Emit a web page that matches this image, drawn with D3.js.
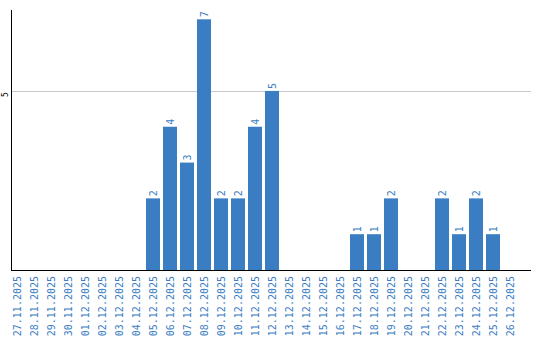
<!DOCTYPE html>
<html>
  <head>
    <meta charset="utf-8">
    <script src="https://d3js.org/d3.v7.min.js"></script>
    <style>
      body { margin: 0; background: #fff; }
      svg text { font-family: "DejaVu Sans Mono", monospace; }
    </style>
  </head>
<body>
  <script type="text/javascript">
    // dates on the x axis and the count for each day
    var days = ["27.11.2025", "28.11.2025", "29.11.2025", "30.11.2025",
                "01.12.2025", "02.12.2025", "03.12.2025", "04.12.2025",
                "05.12.2025", "06.12.2025", "07.12.2025", "08.12.2025",
                "09.12.2025", "10.12.2025", "11.12.2025", "12.12.2025",
                "13.12.2025", "14.12.2025", "15.12.2025", "16.12.2025",
                "17.12.2025", "18.12.2025", "19.12.2025", "20.12.2025",
                "21.12.2025", "22.12.2025", "23.12.2025", "24.12.2025",
                "25.12.2025", "26.12.2025"];
    var counts = [0, 0, 0, 0, 0, 0, 0, 0, 2, 4, 3, 7, 2, 2, 4, 5,
                  0, 0, 0, 0, 1, 1, 2, 0, 0, 2, 1, 2, 1, 0];
    var yTicks = [5];
    var yMax = 7.26;

    var width = 540, height = 340;
    var blue = "#3b7dc2";

    var svg = d3.select("body").append("svg")
        .attr("width", width)
        .attr("height", height);

    var x = d3.scaleBand()
        .domain(days)
        .range([8.5, 518.5])
        .paddingInner(3 / 17)
        .paddingOuter(1.5 / 17);

    var y = d3.scaleLinear()
        .domain([0, yMax])
        .range([270, 10]);

    // grid line at 5
    svg.append("g").selectAll("line")
        .data(yTicks)
        .join("line")
        .attr("x1", 11).attr("x2", 531)
        .attr("y1", d => Math.round(y(d)) + 0.5)
        .attr("y2", d => Math.round(y(d)) + 0.5)
        .attr("stroke", "#c8c8c8");

    svg.append("g").selectAll("text")
        .data(yTicks)
        .join("text")
        .attr("transform", d => "translate(8," + (y(d) + 6) + ") rotate(-90)")
        .attr("font-size", 8)
        .attr("fill", "#000")
        .text(d => d);

    // bars
    svg.append("g").selectAll("rect")
        .data(counts)
        .join("rect")
        .attr("x", (d, i) => x(days[i]))
        .attr("width", x.bandwidth())
        .attr("y", d => y(d))
        .attr("height", d => y(0) - y(d))
        .attr("fill", blue);

    // value labels above bars
    svg.append("g").selectAll("text")
        .data(counts.map((d, i) => ({day: days[i], v: d})).filter(d => d.v > 0))
        .join("text")
        .attr("transform", d => "translate(" + (x(d.day) + x.bandwidth() / 2 + 3.5) + "," +
              (y(d.v) - 2) + ") rotate(-90)")
        .attr("font-size", 10)
        .attr("fill", blue)
        .text(d => d.v);

    // axis lines
    svg.append("line")
        .attr("x1", 11.5).attr("x2", 11.5)
        .attr("y1", 10).attr("y2", 270.5)
        .attr("stroke", "#000");
    svg.append("line")
        .attr("x1", 11).attr("x2", 531)
        .attr("y1", 270.5).attr("y2", 270.5)
        .attr("stroke", "#000");

    // day labels
    svg.append("g").selectAll("text")
        .data(days)
        .join("text")
        .attr("transform", d => "translate(" + (x(d) + x.bandwidth() / 2 + 3.5) + ",276) rotate(-90)")
        .attr("text-anchor", "end")
        .attr("font-size", 10)
        .attr("fill", blue)
        .text(d => d);
  </script>
</body>
</html>
